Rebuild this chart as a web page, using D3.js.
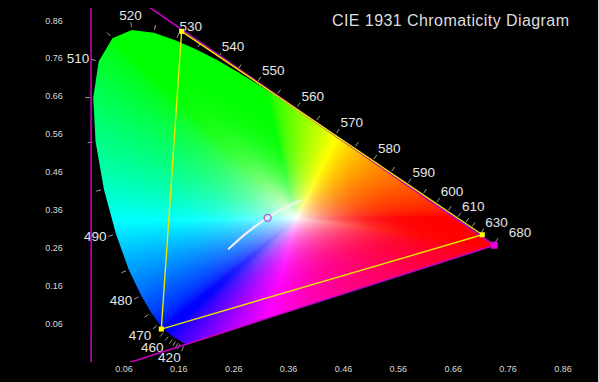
<!DOCTYPE html>
<html>
<head>
<meta charset="utf-8">
<script src="https://cdn.jsdelivr.net/npm/d3@7"></script>
<style>
  html, body { margin: 0; padding: 0; background: #000; }
  #chart { width: 600px; height: 382px; }
  text { font-family: Arial, "Liberation Sans", sans-serif; }
</style>
</head>
<body>
<div id="chart"></div>
<script>
// CIE 1931 2 deg spectral locus, 5 nm steps
const wavelengths = [380, 385, 390, 395, 400, 405, 410, 415, 420, 425, 430, 435, 440, 445, 450, 455,
    460, 465, 470, 475, 480, 485, 490, 495, 500, 505, 510, 515, 520, 525, 530, 535, 540, 545, 550,
    555, 560, 565, 570, 575, 580, 585, 590, 595, 600, 605, 610, 615, 620, 625, 630, 635, 640, 645,
    650, 655, 660, 665, 670, 675, 680, 685, 690, 695, 700];
const locusX = [0.1741, 0.1740, 0.1738, 0.1736, 0.1733, 0.1730, 0.1726, 0.1721, 0.1714, 0.1703,
    0.1689, 0.1669, 0.1644, 0.1611, 0.1566, 0.1510, 0.1440, 0.1355, 0.1241, 0.1096, 0.0913, 0.0687,
    0.0454, 0.0235, 0.0082, 0.0039, 0.0139, 0.0389, 0.0743, 0.1142, 0.1547, 0.1929, 0.2296, 0.2658,
    0.3016, 0.3373, 0.3731, 0.4087, 0.4441, 0.4788, 0.5125, 0.5448, 0.5752, 0.6029, 0.6270, 0.6482,
    0.6658, 0.6801, 0.6915, 0.7006, 0.7079, 0.7140, 0.7190, 0.7230, 0.7260, 0.7283, 0.7300, 0.7311,
    0.7320, 0.7327, 0.7334, 0.7340, 0.7344, 0.7346, 0.7347];
const locusY = [0.0050, 0.0050, 0.0049, 0.0049, 0.0048, 0.0048, 0.0048, 0.0048, 0.0051, 0.0058,
    0.0069, 0.0086, 0.0109, 0.0138, 0.0177, 0.0227, 0.0297, 0.0399, 0.0578, 0.0868, 0.1327, 0.2007,
    0.2950, 0.4127, 0.5384, 0.6548, 0.7502, 0.8120, 0.8338, 0.8262, 0.8059, 0.7816, 0.7543, 0.7243,
    0.6923, 0.6589, 0.6245, 0.5896, 0.5547, 0.5202, 0.4866, 0.4544, 0.4242, 0.3965, 0.3725, 0.3514,
    0.3340, 0.3197, 0.3083, 0.2993, 0.2920, 0.2859, 0.2809, 0.2770, 0.2740, 0.2717, 0.2700, 0.2689,
    0.2680, 0.2673, 0.2666, 0.2660, 0.2656, 0.2654, 0.2653];

const labelWavelengths = [420, 460, 470, 480, 490, 510, 520, 530, 540, 550, 560, 570, 580, 590,
    600, 610, 630, 680];
const tickWavelengths = [420, 440, 445, 450, 455, 460, 465, 470, 475, 480, 485, 490, 495, 500, 505,
    510, 515, 520, 525, 530, 535, 540, 545, 550, 555, 560, 565, 570, 575, 580, 585, 590, 595, 600,
    605, 610, 615, 620, 630, 680];

// ACES AP0 (magenta) and AP1 (yellow) primaries R, G, B
const ap0X = [0.7347, 0.0000, 0.0001];
const ap0Y = [0.2653, 1.0000, -0.0770];
const ap1X = [0.713, 0.165, 0.128];
const ap1Y = [0.293, 0.830, 0.044];
const whitePoint = [0.32168, 0.33767];

// daylight locus 4000 K .. 25000 K
const dayCCT = [4000, 5000, 6000, 7000, 8000, 10000, 12000, 15000, 20000, 25000];
const dayX = [0.3823, 0.3457, 0.3217, 0.3054, 0.2938, 0.2788, 0.2697, 0.2614, 0.2539, 0.2499];
const dayY = [0.3838, 0.3587, 0.3378, 0.3216, 0.3092, 0.2920, 0.2808, 0.2702, 0.2603, 0.2548];

const xTicks = [0.06, 0.16, 0.26, 0.36, 0.46, 0.56, 0.66, 0.76, 0.86];
const yTicks = [0.06, 0.16, 0.26, 0.36, 0.46, 0.56, 0.66, 0.76, 0.86];

const W = 600, H = 382;
const plotYRange = [-0.043, 0.892];
const fanCenter = [0.375, 0.337];

const x = d3.scaleLinear().domain([0.06, 0.86]).range([124, 563]);
const y = d3.scaleLinear().domain([0.06, 0.86]).range([323, 20]);

const svg = d3.select('#chart').append('svg')
    .attr('width', W)
    .attr('height', H);

svg.append('rect')
    .attr('width', W)
    .attr('height', H)
    .attr('fill', '#000');

const defs = svg.append('defs');

const locusPts = wavelengths.map((w, i) => [x(locusX[i]), y(locusY[i])]);
const line = d3.line();

defs.append('clipPath').attr('id', 'locusClip')
    .append('path')
    .attr('d', line(locusPts) + 'Z');

defs.append('clipPath').attr('id', 'plotClip')
    .append('rect')
    .attr('x', 0)
    .attr('y', y(plotYRange[1]))
    .attr('width', W)
    .attr('height', y(plotYRange[0]) - y(plotYRange[1]));

// chromaticity -> saturated display colour (sRGB, clipped, max-normalised)
function chromaColor(cx, cy) {
    const X = cx / cy, Y = 1, Z = (1 - cx - cy) / cy;
    let r = 3.2406 * X - 1.5372 * Y - 0.4986 * Z;
    let g = -0.9689 * X + 1.8758 * Y + 0.0415 * Z;
    let b = 0.0557 * X - 0.2040 * Y + 1.0570 * Z;
    r = Math.max(0, r); g = Math.max(0, g); b = Math.max(0, b);
    const m = Math.max(r, g, b) || 1;
    const enc = v => Math.pow(v / m, 1 / 1.6) * 255;
    return [enc(r), enc(g), enc(b)];
}

// Fill the horseshoe: fan from a white centre out to the locus colours
const canvas = document.createElement('canvas');
canvas.width = W;
canvas.height = H;
const ctx = canvas.getContext('2d');
const img = ctx.createImageData(W, H);
const ccx = x(fanCenter[0]), ccy = y(fanCenter[1]);
const n = locusPts.length;
const bx0 = Math.max(0, Math.floor(d3.min(locusPts, p => p[0])) - 2);
const bx1 = Math.min(W, Math.ceil(d3.max(locusPts, p => p[0])) + 2);
const by0 = Math.max(0, Math.floor(d3.min(locusPts, p => p[1])) - 2);
const by1 = Math.min(H, Math.ceil(d3.max(locusPts, p => p[1])) + 2);

for (let py = by0; py < by1; py++) {
    for (let px = bx0; px < bx1; px++) {
        const dx = px + 0.5 - ccx, dy = py + 0.5 - ccy;
        let best = Infinity, qx = 0, qy = 0;
        for (let k = 0; k < n; k++) {
            const a = locusPts[k], b = locusPts[(k + 1) % n];
            const ex = b[0] - a[0], ey = b[1] - a[1];
            const den = dx * ey - dy * ex;
            if (Math.abs(den) < 1e-12) continue;
            const ax = a[0] - ccx, ay = a[1] - ccy;
            const u = (ax * ey - ay * ex) / den;
            const s = (ax * dy - ay * dx) / den;
            if (u > 0 && s >= 0 && s <= 1 && u < best) {
                best = u;
                qx = a[0] + s * ex;
                qy = a[1] + s * ey;
            }
        }
        let col = [255, 255, 255];
        if (best !== Infinity) {
            const t = Math.min(1, 1 / best);
            const f = 1 - Math.pow(1 - t, 3.5);
            const edge = chromaColor(x.invert(qx), y.invert(qy));
            col = edge.map(v => 255 * (1 - f) + v * f);
        }
        const idx = (py * W + px) * 4;
        img.data[idx] = col[0];
        img.data[idx + 1] = col[1];
        img.data[idx + 2] = col[2];
        img.data[idx + 3] = 255;
    }
}
ctx.putImageData(img, 0, 0);

svg.append('image')
    .attr('href', canvas.toDataURL())
    .attr('width', W)
    .attr('height', H)
    .attr('clip-path', 'url(#locusClip)');

// outward normal of the locus at a wavelength (neighbours at least 8px away)
function locusNormal(w) {
    const i = wavelengths.indexOf(w);
    const p = locusPts[i];
    let a = i, b = i;
    while (a > 0 && Math.hypot(locusPts[a][0] - p[0], locusPts[a][1] - p[1]) < 8) a--;
    while (b < n - 1 && Math.hypot(locusPts[b][0] - p[0], locusPts[b][1] - p[1]) < 8) b++;
    const tx = locusPts[b][0] - locusPts[a][0], ty = locusPts[b][1] - locusPts[a][1];
    const len = Math.hypot(tx, ty) || 1;
    return [ty / len, -tx / len];
}

// wavelength ticks
const ticksG = svg.append('g');
tickWavelengths.forEach(w => {
    const p = locusPts[wavelengths.indexOf(w)];
    const nrm = locusNormal(w);
    ticksG.append('line')
        .attr('x1', p[0] + nrm[0] * 3)
        .attr('y1', p[1] + nrm[1] * 3)
        .attr('x2', p[0] + nrm[0] * 8)
        .attr('y2', p[1] + nrm[1] * 8)
        .attr('stroke', '#9a9a9a')
        .attr('stroke-width', 1);
});

// wavelength labels, nudged sideways if they run into the previous one
const labelsG = svg.append('g');
let prevBox = null;
labelWavelengths.forEach(w => {
    const p = locusPts[wavelengths.indexOf(w)];
    const nrm = locusNormal(w);
    const d = 10;
    const anchor = nrm[0] > 0.3 ? 'start' : (nrm[0] < -0.3 ? 'end' : 'middle');
    const baseline = nrm[1] < -0.5 ? 'alphabetic' : (nrm[1] > 0.5 ? 'hanging' : 'central');
    const lx = p[0] + nrm[0] * d;
    const t = labelsG.append('text')
        .attr('x', lx)
        .attr('y', p[1] + nrm[1] * d)
        .attr('text-anchor', anchor)
        .attr('dominant-baseline', baseline)
        .attr('font-size', 13.5)
        .attr('fill', '#e6e6e6')
        .text(w);
    let box = t.node().getBBox();
    if (prevBox && anchor === 'start') {
        const overlapY = box.y < prevBox.y + prevBox.height - 2 && box.y + box.height > prevBox.y + 2;
        const shift = prevBox.x + prevBox.width + 1 - box.x;
        if (overlapY && shift > 0) {
            t.attr('x', lx + shift);
            box = t.node().getBBox();
        }
    }
    prevBox = box;
});

// gamut triangles
const gamutG = svg.append('g').attr('clip-path', 'url(#plotClip)');
const ap0Pts = ap0X.map((v, i) => [x(v), y(ap0Y[i])]);
const ap1Pts = ap1X.map((v, i) => [x(v), y(ap1Y[i])]);

gamutG.append('path')
    .attr('d', line(ap0Pts) + 'Z')
    .attr('fill', 'none')
    .attr('stroke', '#c400c4')
    .attr('stroke-width', 1.6);

gamutG.append('path')
    .attr('d', line(ap1Pts) + 'Z')
    .attr('fill', 'none')
    .attr('stroke', '#e8e800')
    .attr('stroke-width', 1.4);

gamutG.selectAll('.ap0-pt')
    .data(ap0Pts)
    .join('rect')
    .attr('class', 'ap0-pt')
    .attr('x', d => d[0] - 3.5)
    .attr('y', d => d[1] - 3.5)
    .attr('width', 7)
    .attr('height', 7)
    .attr('fill', '#e000e0');

gamutG.selectAll('.ap1-pt')
    .data(ap1Pts)
    .join('rect')
    .attr('class', 'ap1-pt')
    .attr('x', d => d[0] - 2.5)
    .attr('y', d => d[1] - 2.5)
    .attr('width', 5)
    .attr('height', 5)
    .attr('fill', '#ffff00');

// daylight locus
svg.append('path')
    .attr('d', d3.line().curve(d3.curveCatmullRom)(dayX.map((v, i) => [x(v), y(dayY[i])])))
    .attr('fill', 'none')
    .attr('stroke', '#f4f4f4')
    .attr('stroke-width', 2);

// white point
svg.append('circle')
    .attr('cx', x(whitePoint[0]))
    .attr('cy', y(whitePoint[1]))
    .attr('r', 3.5)
    .attr('fill', 'none')
    .attr('stroke', '#c050d0')
    .attr('stroke-width', 1.3);

// axis labels
svg.append('g').selectAll('text')
    .data(xTicks)
    .join('text')
    .attr('x', d => x(d))
    .attr('y', 369)
    .attr('text-anchor', 'middle')
    .attr('dominant-baseline', 'central')
    .attr('font-size', 9)
    .attr('fill', '#d8d8d8')
    .text(d3.format('.2f'));

svg.append('g').selectAll('text')
    .data(yTicks)
    .join('text')
    .attr('x', 54)
    .attr('y', d => y(d) + 0.5)
    .attr('text-anchor', 'middle')
    .attr('dominant-baseline', 'central')
    .attr('font-size', 9)
    .attr('fill', '#d8d8d8')
    .text(d3.format('.2f'));

// title
svg.append('text')
    .attr('x', 332)
    .attr('y', 26)
    .attr('font-size', 16)
    .attr('textLength', 237)
    .attr('lengthAdjust', 'spacing')
    .attr('fill', '#dedede')
    .text('CIE 1931 Chromaticity Diagram');

// frame edge on the right
svg.append('rect')
    .attr('x', 598)
    .attr('y', 0)
    .attr('width', 2)
    .attr('height', H)
    .attr('fill', '#cfcfcf');
</script>
</body>
</html>
